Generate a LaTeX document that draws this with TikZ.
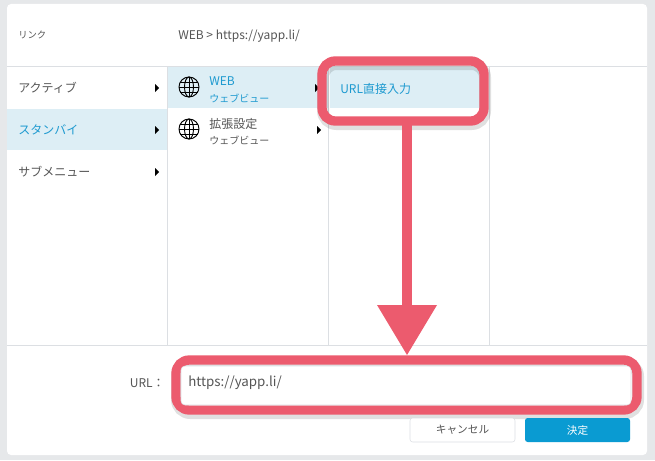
\documentclass[tikz,border=0pt]{standalone}
\usepackage{fontspec}
\setmainfont{Noto Sans CJK JP}
\definecolor{bg}{HTML}{E6E8EA}
\definecolor{hl}{HTML}{DDEEF5}
\definecolor{tx}{HTML}{555555}
\definecolor{bl}{HTML}{1E9AD0}
\definecolor{rd}{HTML}{EC5B6E}
\definecolor{ln}{HTML}{DCDFE3}
\definecolor{btn}{HTML}{0A9BD2}
\tikzset{
 lbl/.style={font=\fontsize{9}{11}\selectfont, text=tx, anchor=west, inner sep=0},
 sub/.style={font=\fontsize{7.5}{9}\selectfont, text=tx, anchor=west, inner sep=0},
 globe/.style={draw=black, line width=0.7pt},
 redbox/.style={draw=rd, line width=7pt, rounded corners=10pt},
 shad/.style={draw=black, opacity=0.12, line width=9pt, rounded corners=10pt},
}
\newcommand{\globeicon}[2]{%
 \begin{scope}[shift={(#1,#2)}]
 \draw[globe] (0,0) circle (10);
 \draw[globe] (0,0) ellipse (4.5 and 10);
 \draw[globe] (0,-10)--(0,10) (-10,0)--(10,0) (-9,-5)--(9,-5) (-9,5)--(9,5);
 \end{scope}}
\newcommand{\tria}[2]{\fill (#1-2,#2-4)--(#1+2,#2)--(#1-2,#2+4)--cycle;}
\begin{document}
\begin{tikzpicture}[x=0.75pt,y=-0.75pt]
\useasboundingbox (0,0) rectangle (655,460);
\fill[bg] (0,0) rectangle (655,460);
\fill[white, rounded corners=3pt] (7,4) rectangle (647,455);
% highlights
\fill[hl] (7,109) rectangle (167,150);
\fill[hl] (167,67) rectangle (328,108);
\fill[hl] (330,67) rectangle (480,108);
% lines
\draw[ln] (7,66)--(647,66);
\draw[ln] (7,345)--(647,345);
\draw[ln] (167,66)--(167,345) (328,66)--(328,345) (489,66)--(489,345);
% header
\node[lbl, font=\fontsize{7}{9}\selectfont] (hl1) at (18,35) {リンク};
\node[lbl] (hl2) at (178,36) {WEB > https://yapp.li/};
% col1
\node[lbl] (a1) at (18,88) {アクティブ};
\node[lbl, text=bl] (a2) at (18,130) {スタンバイ};
\node[lbl] (a3) at (18,172) {サブメニュー};
\tria{157}{88}\tria{157}{130}\tria{157}{172}
% col2
\globeicon{189}{87}\globeicon{189}{129}
\node[lbl, text=bl] (b1) at (209,81) {WEB};
\node[sub, text=bl] (b1s) at (209,98) {ウェブビュー};
\node[lbl] (b2) at (209,124) {拡張設定};
\node[sub] (b2s) at (209,140) {ウェブビュー};
\tria{319}{130}\tria{317}{88}
% col3
\node[lbl, text=bl] (c1) at (340,89) {URL直接入力};
\draw[shad] (323,64) rectangle (485,124);
\draw[redbox] (322,61) rectangle (484,121);
% arrow
\coordinate (tip) at (407,355);
\fill[rd] (402,125) rectangle (412,306);
\fill[rd] (377,305)--(437,305)--(tip)--cycle;
% bottom
\node[lbl, anchor=east] (ul) at (165,383) {URL：};
\draw[shad] (177,363) rectangle (638,413);
\draw[redbox] (176,360) rectangle (637,410);
\draw[ln, fill=white, rounded corners=3pt] (181,366) rectangle (631,405);
\node[lbl, font=\fontsize{10}{12}\selectfont] (url) at (188,383) {https://yapp.li/};
\draw[ln, fill=white, rounded corners=2pt] (410,418) rectangle (515,442);
\node[font=\fontsize{8}{10}\selectfont, text=tx] (cancel) at (462.5,430) {キャンセル};
\fill[btn, rounded corners=2pt] (525,418) rectangle (630,442);
\node[font=\fontsize{8}{10}\selectfont, text=white] (ok) at (577.5,430) {決定};
\end{tikzpicture}
\end{document}
